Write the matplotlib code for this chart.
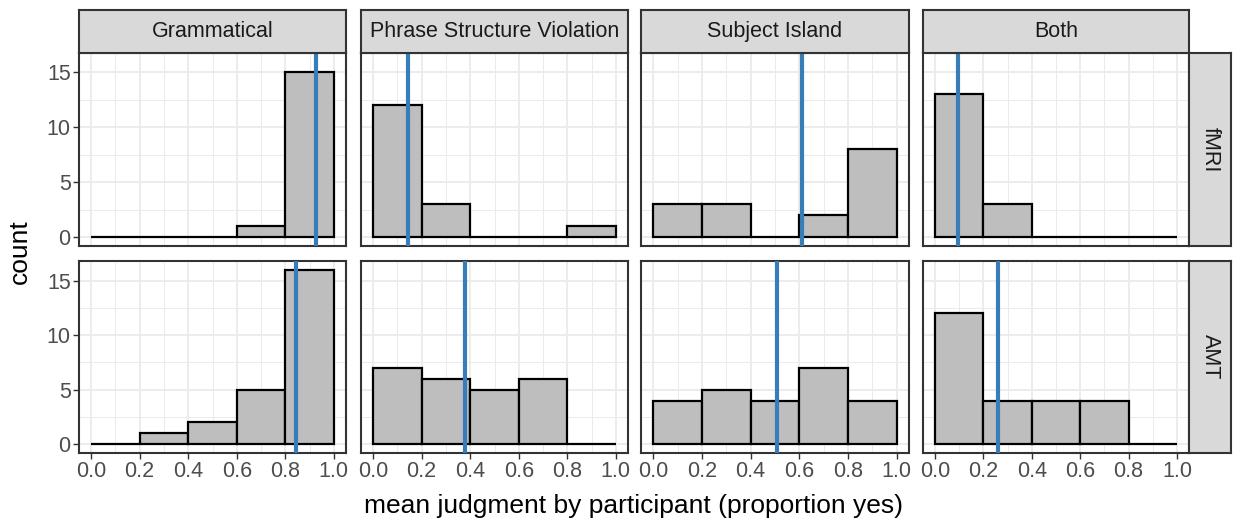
import numpy as np
import matplotlib
matplotlib.use("Agg")
import matplotlib.pyplot as plt

plt.rcParams["font.family"] = ["Liberation Sans", "DejaVu Sans"]

# facets
conditions = ["Grammatical", "Phrase Structure Violation", "Subject Island", "Both"]
sources = ["fMRI", "AMT"]

# histogram bins (binwidth 0.2)
bin_edges = [0.0, 0.2, 0.4, 0.6, 0.8, 1.0]

# counts per bin, one list per condition
fmri_counts = [
    [0, 0, 0, 1, 15],
    [12, 3, 0, 0, 1],
    [3, 3, 0, 2, 8],
    [13, 3, 0, 0, 0],
]
amt_counts = [
    [0, 1, 2, 5, 16],
    [7, 6, 5, 6, 0],
    [4, 5, 4, 7, 4],
    [12, 4, 4, 4, 0],
]

# mean judgment per condition (blue lines)
fmri_means = [0.925, 0.142, 0.612, 0.096]
amt_means = [0.845, 0.377, 0.508, 0.26]

W, H = 1233, 520
fig = plt.figure(figsize=(W / 100, H / 100), dpi=100)


def box(x0, y0, x1, y1):
    # pixel box (top-left origin) -> figure fraction
    return [x0 / W, 1 - y1 / H, (x1 - x0) / W, (y1 - y0) / H]


col_x = [(79, 346), (361, 628), (641, 909), (923, 1189)]
row_y = [(52.5, 246), (261, 453)]
strip_top = (10, 52.5)
strip_right = (1189, 1231)

BORDER = "#333333"
GRID = "#EBEBEB"
TICK_FS = 15.5
TITLE_FS = 19
counts_by_row = [fmri_counts, amt_counts]
means_by_row = [fmri_means, amt_means]

edges = np.array(bin_edges)
centers = (edges[:-1] + edges[1:]) / 2
widths = np.diff(edges)

for r, src in enumerate(sources):
    for c, cond in enumerate(conditions):
        ax = fig.add_axes(box(col_x[c][0], row_y[r][0], col_x[c][1], row_y[r][1]))
        ax.set_xlim(-0.05, 1.05)
        ax.set_ylim(-0.8, 16.8)
        ax.set_xticks([0, 0.2, 0.4, 0.6, 0.8, 1.0])
        ax.set_xticks([0.1, 0.3, 0.5, 0.7, 0.9], minor=True)
        ax.set_yticks([0, 5, 10, 15])
        ax.set_yticks([2.5, 7.5, 12.5], minor=True)
        ax.grid(True, which="major", color=GRID, linewidth=1.3)
        ax.grid(True, which="minor", color=GRID, linewidth=0.7)
        ax.set_axisbelow(True)
        ax.tick_params(which="minor", length=0)
        ax.tick_params(which="major", length=4, width=1, color=BORDER,
                       labelsize=TICK_FS, labelcolor="#4D4D4D", pad=2)
        for sp in ax.spines.values():
            sp.set_color(BORDER)
            sp.set_linewidth(1.5)

        ax.bar(centers, counts_by_row[r][c], width=widths, color="#BEBEBE",
               edgecolor="black", linewidth=1.6, zorder=2)
        ax.axvline(means_by_row[r][c], color="#377EB8", linewidth=3, zorder=3)

        if c == 0:
            ax.set_yticklabels(["0", "5", "10", "15"])
        else:
            ax.tick_params(axis="y", length=0, labelleft=False)
        if r == 1:
            ax.set_xticklabels(["0.0", "0.2", "0.4", "0.6", "0.8", "1.0"])
        else:
            ax.tick_params(axis="x", length=0, labelbottom=False)

        if r == 0:
            sax = fig.add_axes(box(col_x[c][0], strip_top[0], col_x[c][1], strip_top[1]))
            sax.set_facecolor("#D9D9D9")
            sax.set_xticks([])
            sax.set_yticks([])
            for sp in sax.spines.values():
                sp.set_color(BORDER)
                sp.set_linewidth(1.5)
            sax.text(0.5, 0.5, cond, ha="center", va="center", fontsize=TICK_FS,
                     color="#1A1A1A", transform=sax.transAxes)

    rax = fig.add_axes(box(strip_right[0], row_y[r][0], strip_right[1], row_y[r][1]))
    rax.set_facecolor("#D9D9D9")
    rax.set_xticks([])
    rax.set_yticks([])
    for sp in rax.spines.values():
        sp.set_color(BORDER)
        sp.set_linewidth(1.5)
    rax.text(0.5, 0.5, src, ha="center", va="center", rotation=-90, fontsize=TICK_FS,
             color="#1A1A1A", transform=rax.transAxes)

fig.text(634 / W, 1 - 506 / H, "mean judgment by participant (proportion yes)",
         ha="center", va="center", fontsize=TITLE_FS)
fig.text(20 / W, 1 - 252 / H, "count", ha="center", va="center",
         rotation=90, fontsize=TITLE_FS)

fig.savefig("out.png", dpi=100)
